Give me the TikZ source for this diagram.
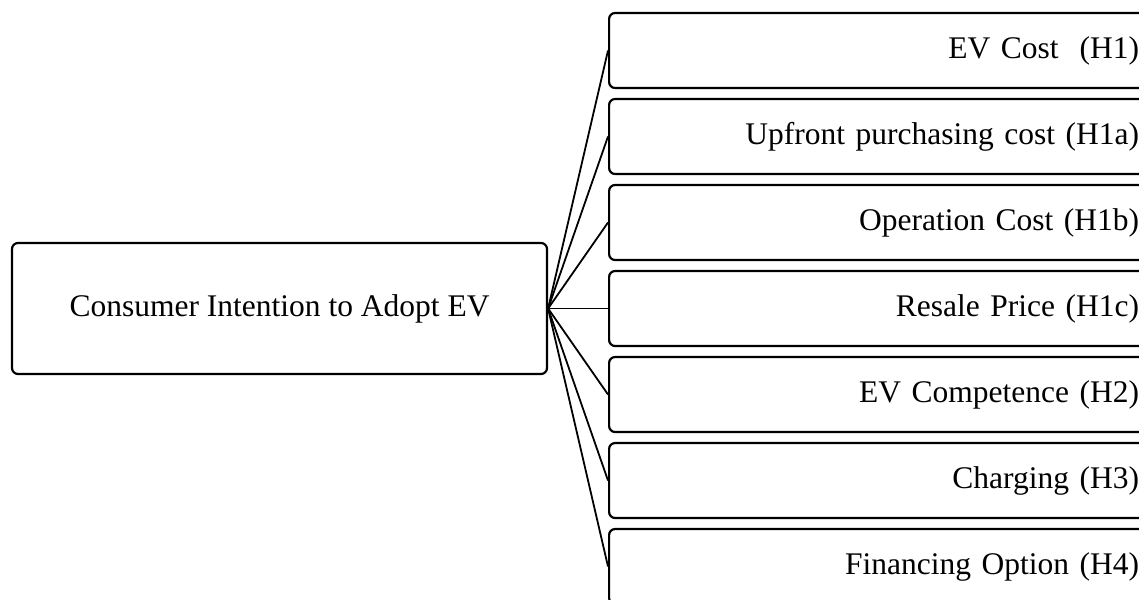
\documentclass[tikz,border=0pt]{standalone}
\usepackage{fontspec}
\setmainfont{Liberation Serif}
\begin{document}
\begin{tikzpicture}[x=1pt,y=-1pt,
  hubbox/.style={draw=black,line width=2.2pt,rounded corners=6pt,minimum width=535pt,minimum height=131pt,inner sep=0pt,font=\fontsize{31.5}{36}\selectfont},
  factor/.style={draw=black,line width=2.2pt,rounded corners=6pt,anchor=west,minimum width=545pt,minimum height=75pt,inner xsep=15pt,inner ysep=0pt,text width=515pt,align=right,font=\fontsize{31.5}{36}\selectfont},
  link/.style={draw=black,line width=1.8pt}]
\clip (0,0) rectangle (1139,599);
\node[hubbox] (hub) at (279.5,308.5) {Consumer Intention to Adopt EV};
\node[factor] (f1) at (608,50.5) {EV Cost~~(H1)};
\node[factor] (f2) at (608,136.5) {Upfront purchasing cost (H1a)};
\node[factor] (f3) at (608,222.5) {Operation Cost (H1b)};
\node[factor] (f4) at (608,308.5) {Resale Price (H1c)};
\node[factor] (f5) at (608,394.5) {EV Competence (H2)};
\node[factor] (f6) at (608,480.5) {Charging (H3)};
\node[factor] (f7) at (608,566.5) {Financing Option (H4)};
\foreach \i in {1,...,7} {\draw[link] (hub.east) -- (f\i.west);}
\end{tikzpicture}
\end{document}
